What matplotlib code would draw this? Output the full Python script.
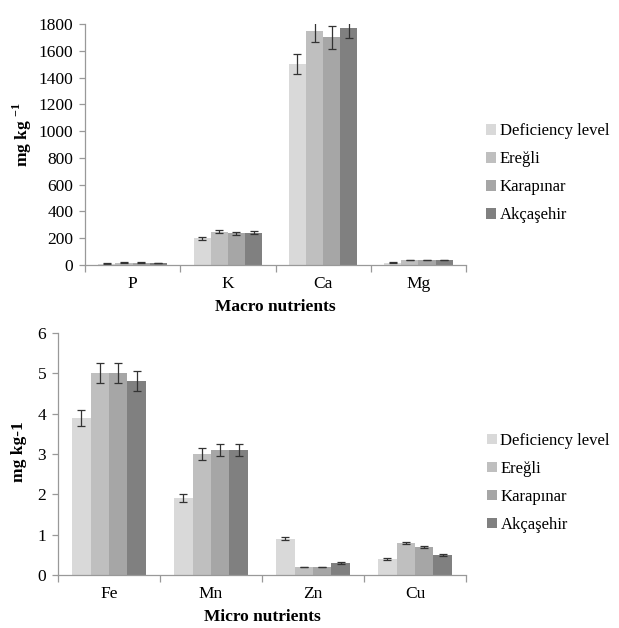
import matplotlib
matplotlib.use("Agg")
import matplotlib.pyplot as plt
import numpy as np

series = ["Deficiency level", "Ereğli", "Karapınar", "Akçaşehir"]
colors = ["#d9d9d9", "#bfbfbf", "#a6a6a6", "#808080"]

macro_cats = ["P", "K", "Ca", "Mg"]
macro_vals = [
    [10, 198, 1500, 18],
    [18, 248, 1750, 38],
    [18, 238, 1700, 38],
    [15, 242, 1770, 38],
]
macro_err = [
    [2, 10, 75, 2],
    [3, 12, 85, 3],
    [3, 12, 85, 3],
    [3, 12, 75, 3],
]

micro_cats = ["Fe", "Mn", "Zn", "Cu"]
micro_vals = [
    [3.9, 1.9, 0.9, 0.4],
    [5.0, 3.0, 0.2, 0.8],
    [5.0, 3.1, 0.2, 0.7],
    [4.8, 3.1, 0.3, 0.5],
]
micro_err = [
    [0.2, 0.1, 0.04, 0.03],
    [0.25, 0.15, 0.01, 0.03],
    [0.25, 0.15, 0.01, 0.03],
    [0.25, 0.15, 0.02, 0.03],
]

plt.rcParams['font.family'] = ['Liberation Serif', 'DejaVu Serif']
plt.rcParams['mathtext.fontset'] = 'custom'
plt.rcParams['mathtext.rm'] = 'Liberation Serif'
plt.rcParams['mathtext.bf'] = 'Liberation Serif:bold'

FS = 12.5
LFS = 12

fig = plt.figure(figsize=(6.19, 6.28), dpi=100)
ax1 = fig.add_axes([85/619, 1-265/628, 381/619, 241/628])
ax2 = fig.add_axes([58/619, 1-575/628, 408/619, 242/628])

def draw(ax, cats, vals, errs, ylim, yticks, xlabel, ylabel, leg_x, leg_y, lab_x, lab_y):
    n = len(series)
    group_w = 0.72
    bw = group_w / n
    x = np.arange(len(cats))
    for i in range(n):
        ax.bar(x - group_w/2 + bw*(i+0.5), vals[i], bw, color=colors[i],
               yerr=errs[i], capsize=3,
               error_kw=dict(ecolor="#333333", elinewidth=0.9, capthick=0.9),
               label=series[i], zorder=2)
    ax.set_xlim(-0.5, len(cats)-0.5)
    ax.set_ylim(*ylim)
    ax.set_yticks(yticks)
    ax.set_xticks(x)
    ax.set_xticklabels(cats, fontsize=FS)
    ax.set_xticks(np.arange(-0.5, len(cats), 1.0), minor=True)
    ax.tick_params(axis='x', which='major', length=0, pad=8)
    ax.tick_params(axis='x', which='minor', length=5, color="#999999", width=0.9)
    ax.tick_params(axis='y', length=4.5, color="#999999", width=0.9, labelsize=FS, pad=4)
    for s in ["top", "right"]:
        ax.spines[s].set_visible(False)
    for s in ["left", "bottom"]:
        ax.spines[s].set_color("#999999")
        ax.spines[s].set_linewidth(0.9)
    ax.set_xlabel(xlabel, fontsize=FS, fontweight='bold', labelpad=5)
    ax.set_ylabel(ylabel, fontsize=FS, fontweight='bold')
    ax.yaxis.set_label_coords(lab_x, lab_y)
    ax.legend(loc="center left", bbox_to_anchor=(leg_x, leg_y), frameon=False,
              fontsize=LFS, handlelength=0.6, handleheight=0.6,
              handletextpad=0.2, labelspacing=0.72)

draw(ax1, macro_cats, macro_vals, macro_err, (0, 1800), np.arange(0, 1801, 200),
     "Macro nutrients", r"mg kg $^{\mathbf{-1}}$", 1.014, 0.38, -0.135, 0.54)
draw(ax2, micro_cats, micro_vals, micro_err, (0, 6), np.arange(0, 7, 1),
     "Micro nutrients", "mg kg-1", 1.015, 0.38, -0.075, 0.51)

fig.savefig("out.png", dpi=100)
